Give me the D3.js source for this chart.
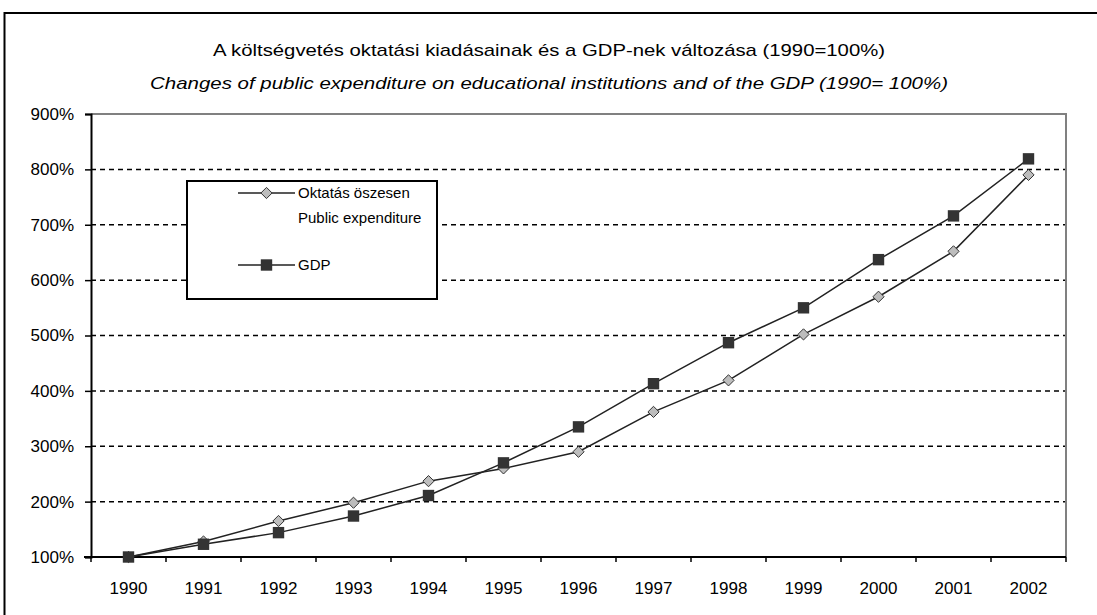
<!DOCTYPE html>
<html>
<head>
<meta charset="utf-8">
<script src="https://cdn.jsdelivr.net/npm/d3@7"></script>
<style>
body { margin: 0; background: #fff; }
text { font-family: "Liberation Sans", Arial, sans-serif; fill: #000; }
</style>
</head>
<body>
<svg width="1097" height="615"></svg>
<script>
var years = ["1990","1991","1992","1993","1994","1995","1996","1997","1998","1999","2000","2001","2002"];
var eduValues = [100, 128, 165, 198, 237, 260, 290, 362, 419, 502, 570, 652, 790];
var gdpValues = [100, 123, 144, 174, 211, 270, 335, 413, 487, 550, 637, 716, 819];
var yTicks = [100, 200, 300, 400, 500, 600, 700, 800, 900];
var titleHu = "A költségvetés oktatási kiadásainak és a GDP-nek változása (1990=100%)";
var titleEn = "Changes of public expenditure on educational institutions and of the GDP (1990= 100%)";
var legendEdu = ["Oktatás öszesen", "Public expenditure"];
var legendGdp = "GDP";

var svg = d3.select("svg"),
    plotLeft = 91, plotRight = 1066, plotTop = 114, plotBottom = 557;

// outer frame (runs off the right / bottom edge like the screenshot)
svg.append("path")
    .attr("d", "M4.5,620 V13 H1100")
    .attr("fill", "none")
    .attr("stroke", "#000")
    .attr("stroke-width", 2);

var x = d3.scaleBand().domain(years).range([plotLeft, plotRight]);
var y = d3.scaleLinear().domain([100, 900]).range([plotBottom, plotTop]);

// titles
svg.append("text")
    .attr("x", 549).attr("y", 56)
    .attr("text-anchor", "middle")
    .attr("textLength", 672).attr("lengthAdjust", "spacingAndGlyphs")
    .style("font-size", "17px")
    .text(titleHu);
svg.append("text")
    .attr("x", 549).attr("y", 89)
    .attr("text-anchor", "middle")
    .attr("textLength", 798).attr("lengthAdjust", "spacingAndGlyphs")
    .style("font-size", "17px").style("font-style", "italic")
    .text(titleEn);

// grid
svg.append("g")
  .selectAll("line")
  .data(yTicks.filter(function(d) { return d > 100 && d < 900; }))
  .enter().append("line")
    .attr("x1", plotLeft).attr("x2", plotRight)
    .attr("y1", function(d) { return y(d); })
    .attr("y2", function(d) { return y(d); })
    .attr("stroke", "#000")
    .attr("stroke-width", 1.5)
    .attr("stroke-dasharray", "5,4");

// top and right plot border (grey)
svg.append("path")
    .attr("d", "M" + plotLeft + "," + y(900) + " H" + plotRight + " V" + plotBottom)
    .attr("fill", "none")
    .attr("stroke", "#808080")
    .attr("stroke-width", 2);

// y axis
var yAxis = svg.append("g")
    .attr("transform", "translate(" + plotLeft + ",0)")
    .call(d3.axisLeft(y).tickValues(yTicks).tickSize(6).tickPadding(11)
        .tickFormat(function(d) { return d + "%"; }));
yAxis.attr("font-family", null).attr("font-size", null);
yAxis.select(".domain").attr("stroke", "#000").attr("stroke-width", 2);
yAxis.selectAll(".tick line").attr("stroke", "#000").attr("stroke-width", 1.5);
yAxis.selectAll("text").style("font-size", "17px");

// x axis: ticks on band boundaries
var xAxis = svg.append("g")
    .attr("transform", "translate(0," + plotBottom + ")");
xAxis.append("line")
    .attr("x1", plotLeft - 7).attr("x2", plotRight)
    .attr("stroke", "#000").attr("stroke-width", 2);
xAxis.selectAll(".bt")
  .data(years.concat(["end"]))
  .enter().append("line")
    .attr("class", "bt")
    .attr("x1", function(d, i) { return plotLeft + i * x.bandwidth(); })
    .attr("x2", function(d, i) { return plotLeft + i * x.bandwidth(); })
    .attr("y1", 0).attr("y2", 5)
    .attr("stroke", "#000").attr("stroke-width", 1.5);
xAxis.selectAll(".lbl")
  .data(years)
  .enter().append("text")
    .attr("class", "lbl")
    .attr("x", function(d) { return x(d) + x.bandwidth() / 2; })
    .attr("y", 37)
    .attr("text-anchor", "middle")
    .style("font-size", "17px")
    .text(function(d) { return d; });

var line = d3.line()
    .x(function(d, i) { return x(years[i]) + x.bandwidth() / 2; })
    .y(function(d) { return y(d); });

var diamond = d3.symbol().type(d3.symbolDiamond2).size(80);
var square = d3.symbol().type(d3.symbolSquare).size(130);

function drawSeries(values, sym, fill) {
  svg.append("path")
      .datum(values)
      .attr("d", line)
      .attr("fill", "none")
      .attr("stroke", "#222")
      .attr("stroke-width", 1.5);
  svg.append("g")
    .selectAll("path")
    .data(values)
    .enter().append("path")
      .attr("transform", function(d, i) {
        return "translate(" + (x(years[i]) + x.bandwidth() / 2) + "," + y(d) + ")";
      })
      .attr("d", sym)
      .attr("fill", fill)
      .attr("stroke", fill == "#333" ? "none" : "#333")
      .attr("stroke-width", 1);
}

drawSeries(eduValues, diamond, "#bdbdbd");
drawSeries(gdpValues, square, "#333");

// legend
var lg = svg.append("g");
lg.append("rect")
    .attr("x", 187).attr("y", 181)
    .attr("width", 250).attr("height", 118)
    .attr("fill", "#fff")
    .attr("stroke", "#000").attr("stroke-width", 2);

var legendRows = [
  {y: 193, sym: diamond, fill: "#bdbdbd", text: legendEdu},
  {y: 265, sym: square, fill: "#333", text: [legendGdp]}
];
legendRows.forEach(function(r) {
  lg.append("line")
      .attr("x1", 238).attr("x2", 295)
      .attr("y1", r.y).attr("y2", r.y)
      .attr("stroke", "#222").attr("stroke-width", 1.5);
  lg.append("path")
      .attr("transform", "translate(266.5," + r.y + ")")
      .attr("d", r.sym)
      .attr("fill", r.fill)
      .attr("stroke", r.fill == "#333" ? "none" : "#333");
  r.text.forEach(function(t, j) {
    lg.append("text")
        .attr("x", 298).attr("y", r.y + 5 + j * 25)
        .style("font-size", "15px")
        .text(t);
  });
});
</script>
</body>
</html>
